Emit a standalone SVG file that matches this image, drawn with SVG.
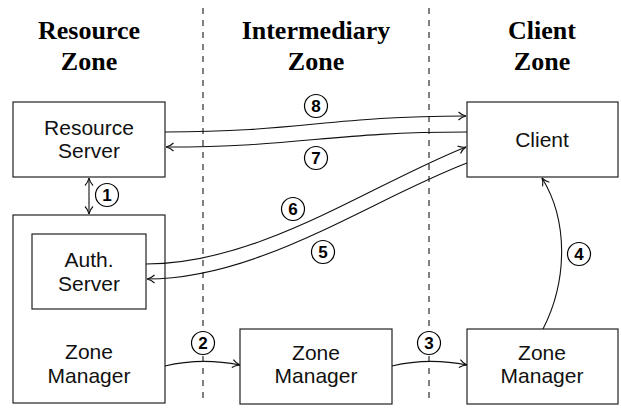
<svg xmlns="http://www.w3.org/2000/svg" width="621" height="409" viewBox="0 0 621 409">
<style>
.box{fill:#fff;stroke:#222;stroke-width:1.2}
.lbl{font-family:"Liberation Sans",Arial,sans-serif;font-size:21px;fill:#111;text-anchor:middle}
.hd{font-family:"Liberation Serif","Times New Roman",serif;font-size:26px;font-weight:bold;fill:#000;text-anchor:middle}
.zone{stroke:#000;stroke-width:1;stroke-dasharray:6,6;fill:none}
.conn{fill:none;stroke:#111;stroke-width:1.1}
.num circle{fill:#fff;stroke:#000;stroke-width:1.2}
.num text{font-family:"Liberation Sans",Arial,sans-serif;font-size:17px;font-weight:bold;text-anchor:middle;fill:#000}
</style>
<defs>
<marker id="ah" viewBox="0 0 10 10" refX="9.5" refY="5" markerWidth="10" markerHeight="10" markerUnits="userSpaceOnUse" orient="auto-start-reverse">
<path d="M2,1 Q5,4 9.5,5 Q5,6 2,9" fill="none" stroke="#111" stroke-width="1.1"/>
</marker>
</defs>
<rect width="621" height="409" fill="#fff"/>
<g id="zones">
<line class="zone" x1="203" y1="8" x2="203" y2="404"/>
<line class="zone" x1="429" y1="8" x2="429" y2="404"/>
<text class="hd" x="89" y="39">Resource</text>
<text class="hd" x="89" y="70">Zone</text>
<text class="hd" x="316" y="39">Intermediary</text>
<text class="hd" x="316" y="70">Zone</text>
<text class="hd" x="542" y="39">Client</text>
<text class="hd" x="542" y="70">Zone</text>
</g>
<g id="resource-server">
<rect class="box" x="13" y="102" width="152" height="75"/>
<text class="lbl" x="89" y="135">Resource</text>
<text class="lbl" x="89" y="158">Server</text>
</g>
<g id="zone-manager-resource">
<rect class="box" x="13" y="215" width="152" height="188"/>
<text class="lbl" x="89" y="359">Zone</text>
<text class="lbl" x="89" y="383">Manager</text>
</g>
<g id="auth-server">
<rect class="box" x="32" y="234" width="114" height="75"/>
<text class="lbl" x="89" y="267">Auth.</text>
<text class="lbl" x="89" y="291">Server</text>
</g>
<g id="client">
<rect class="box" x="467" y="102" width="151" height="75"/>
<text class="lbl" x="542" y="147">Client</text>
</g>
<g id="zone-manager-intermediary">
<rect class="box" x="240" y="329" width="152" height="75"/>
<text class="lbl" x="316" y="360">Zone</text>
<text class="lbl" x="316" y="383">Manager</text>
</g>
<g id="zone-manager-client">
<rect class="box" x="467" y="329" width="151" height="75"/>
<text class="lbl" x="542" y="360">Zone</text>
<text class="lbl" x="542" y="383">Manager</text>
</g>
<g id="connectors">
<line class="conn" x1="89" y1="178" x2="89" y2="214" marker-start="url(#ah)" marker-end="url(#ah)"/>
<path class="conn" d="M165,132 C300,132 330,116 466,116" marker-end="url(#ah)"/>
<path class="conn" d="M467,132 C330,132 300,147 166,147" marker-end="url(#ah)"/>
<path class="conn" d="M146,264 C260,264 370,185 466,147" marker-end="url(#ah)"/>
<path class="conn" d="M467,163 C370,200 260,279 147,279" marker-end="url(#ah)"/>
<path class="conn" d="M165,366 C190,360 215,360 240,365" marker-end="url(#ah)"/>
<path class="conn" d="M392,366 C417,360 442,360 467,365" marker-end="url(#ah)"/>
<path class="conn" d="M543,329 C568,280 568,220 542,178" marker-end="url(#ah)"/>
</g>
<g id="labels" class="num">
<g><circle cx="107" cy="195" r="11.5"/><text x="107" y="201">1</text></g>
<g><circle cx="203" cy="343" r="11.5"/><text x="203" y="349">2</text></g>
<g><circle cx="429" cy="343" r="11.5"/><text x="429" y="349">3</text></g>
<g><circle cx="579" cy="254" r="11.5"/><text x="579" y="260">4</text></g>
<g><circle cx="323" cy="252" r="11.5"/><text x="323" y="258">5</text></g>
<g><circle cx="293" cy="209" r="11.5"/><text x="293" y="215">6</text></g>
<g><circle cx="316" cy="158" r="11.5"/><text x="316" y="164">7</text></g>
<g><circle cx="316" cy="106" r="11.5"/><text x="316" y="112">8</text></g>
</g>
</svg>
